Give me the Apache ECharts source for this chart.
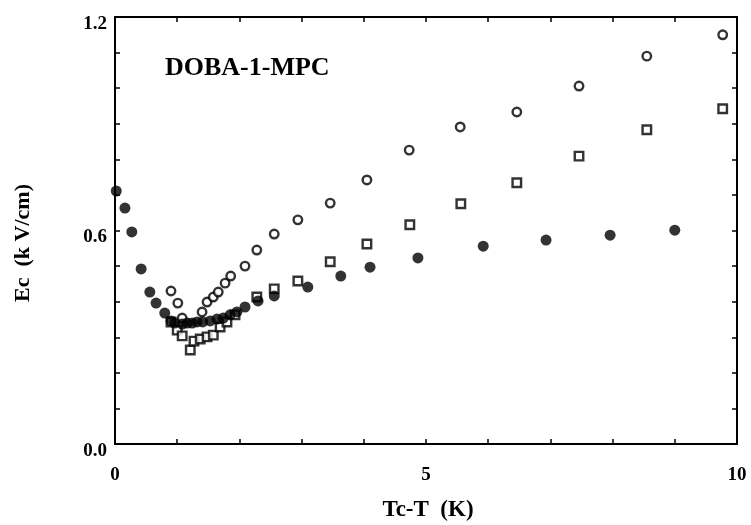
<!DOCTYPE html>
<html>
<head>
<meta charset="utf-8">
<script src="https://cdn.jsdelivr.net/npm/echarts@6/dist/echarts.min.js"></script>
<style>html,body{margin:0;padding:0;background:#fff;}#c{width:751px;height:525px;}</style>
</head>
<body>
<div id="c"></div>
<script>
// Filled circles: [Tc-T (K), Ec (kV/cm)]
var filledX = [0.02,0.16,0.27,0.42,0.56,0.66,0.80,0.90,0.96,1.08,1.16,1.24,1.32,1.41,1.53,1.64,1.74,1.85,1.96,2.09,2.30,2.56,3.10,3.63,4.10,4.87,5.92,6.93,7.96,9.00];
var filledY = [0.711,0.663,0.596,0.492,0.427,0.396,0.368,0.346,0.340,0.337,0.340,0.340,0.343,0.343,0.346,0.351,0.354,0.363,0.371,0.385,0.402,0.416,0.441,0.472,0.497,0.523,0.556,0.573,0.587,0.601];
// Open circles
var openX = [0.90,1.01,1.08,1.40,1.48,1.58,1.66,1.77,1.86,2.09,2.28,2.56,2.94,3.46,4.05,4.73,5.55,6.46,7.46,8.55,9.77];
var openY = [0.430,0.396,0.354,0.371,0.399,0.413,0.427,0.452,0.472,0.500,0.545,0.590,0.630,0.677,0.742,0.826,0.891,0.933,1.006,1.090,1.150];
// Open squares
var squareX = [0.90,1.00,1.08,1.21,1.27,1.37,1.48,1.58,1.69,1.80,1.93,2.28,2.56,2.94,3.46,4.05,4.74,5.56,6.46,7.46,8.55,9.77];
var squareY = [0.343,0.320,0.304,0.264,0.289,0.295,0.301,0.306,0.329,0.343,0.363,0.413,0.436,0.458,0.512,0.562,0.616,0.675,0.734,0.809,0.883,0.942];
var xTickLabels = [0, 5, 10];
var yTickLabels = ['0.0', '0.6', '1.2'];

function pairs(xs, ys) { return xs.map(function (x, i) { return [x, ys[i]]; }); }

var FONT = '"Liberation Serif", "DejaVu Serif", serif';
var axisLineStyle = { color: '#000', width: 2 };
var tickStyle = { color: '#000', width: 1.5 };

var chart = echarts.init(document.getElementById('c'), null, { renderer: 'canvas' });
chart.setOption({
  animation: false,
  backgroundColor: '#fff',
  grid: { left: 115, right: 14, top: 17, bottom: 81 },
  xAxis: [{
    type: 'value', min: 0, max: 10, interval: 1,
    axisLine: { show: true, lineStyle: axisLineStyle },
    axisTick: { show: true, inside: true, length: 5, lineStyle: tickStyle },
    splitLine: { show: false },
    axisLabel: {
      margin: 22, color: '#000', fontFamily: FONT, fontWeight: 'bold', fontSize: 19,
      formatter: function (v) { return xTickLabels.indexOf(Math.round(v)) >= 0 && Math.abs(v - Math.round(v)) < 1e-6 ? String(Math.round(v)) : ''; }
    }
  }, {
    type: 'value', min: 0, max: 10, interval: 1, position: 'top',
    axisLine: { show: true, onZero: false, lineStyle: axisLineStyle },
    axisTick: { show: true, inside: true, length: 5, lineStyle: tickStyle },
    axisLabel: { show: false }, splitLine: { show: false }
  }],
  yAxis: [{
    type: 'value', min: 0, max: 1.2, interval: 0.1,
    axisLine: { show: true, lineStyle: axisLineStyle },
    axisTick: { show: true, inside: true, length: 5, lineStyle: tickStyle },
    splitLine: { show: false },
    axisLabel: {
      margin: 8, color: '#000', fontFamily: FONT, fontWeight: 'bold', fontSize: 19,
      verticalAlign: 'top', lineHeight: 14,
      formatter: function (v) {
        var s = v.toFixed(1);
        return yTickLabels.indexOf(s) >= 0 ? s : '';
      }
    }
  }, {
    type: 'value', min: 0, max: 1.2, interval: 0.1, position: 'right',
    axisLine: { show: true, onZero: false, lineStyle: axisLineStyle },
    axisTick: { show: true, inside: true, length: 5, lineStyle: tickStyle },
    axisLabel: { show: false }, splitLine: { show: false }
  }],
  graphic: [
    { type: 'text', left: 165, top: 55, style: { text: 'DOBA-1-MPC', font: 'bold 26px ' + FONT, fill: '#000' } },
    { type: 'text', x: 428, y: 510, style: { text: 'Tc-T  (K)', font: 'bold 23px ' + FONT, fill: '#000', align: 'center', verticalAlign: 'middle' } },
    { type: 'text', x: 23, y: 243, rotation: Math.PI / 2, style: { text: 'Ec  (k V/cm)', font: 'bold 22px ' + FONT, fill: '#000', align: 'center', verticalAlign: 'middle' } }
  ],
  series: [{
    type: 'scatter', name: 'open circles', data: pairs(openX, openY),
    symbol: 'circle', symbolSize: 8.5,
    itemStyle: { color: '#fff', borderColor: '#000', borderWidth: 2.4 }
  }, {
    type: 'scatter', name: 'open squares', data: pairs(squareX, squareY),
    symbol: 'rect', symbolSize: 8.5,
    itemStyle: { color: '#fff', borderColor: '#000', borderWidth: 2.4 }
  }, {
    type: 'scatter', name: 'filled circles', data: pairs(filledX, filledY),
    symbol: 'circle', symbolSize: 11,
    itemStyle: { color: '#000' }
  }]
});
</script>
</body>
</html>
